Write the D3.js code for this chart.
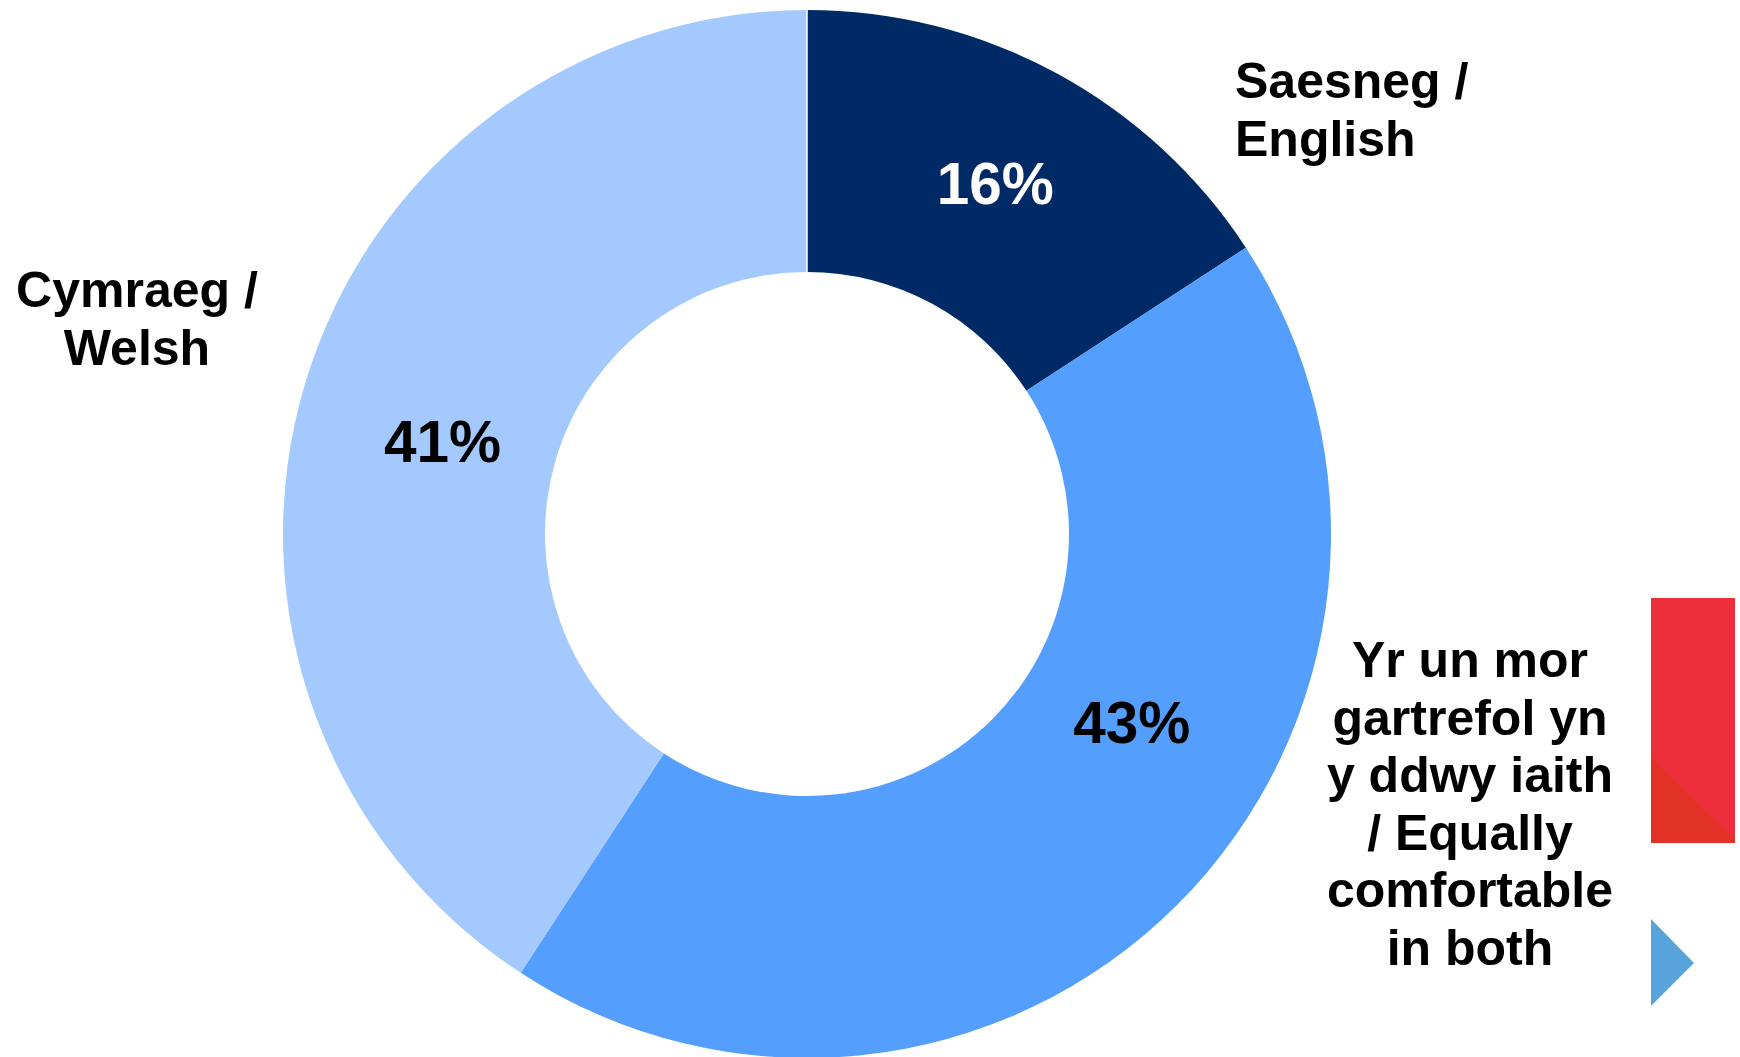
<!DOCTYPE html>
<html><head><meta charset="utf-8">
<script src="https://cdn.jsdelivr.net/npm/d3@7"></script>
<style>html,body{margin:0;padding:0;background:#fff;}svg{display:block;}</style>
</head><body>
<script>
const categories = ["Saesneg / English", "Yr un mor gartrefol yn y ddwy iaith / Equally comfortable in both", "Cymraeg / Welsh"];
const values = [15.8, 43.4, 40.8];
const categoryLines = [
  ["Saesneg /", "English"],
  ["Yr un mor", "gartrefol yn", "y ddwy iaith", "/ Equally", "comfortable", "in both"],
  ["Cymraeg /", "Welsh"]
];
const colors = ["#002A66", "#549EFE", "#A3C9FE"];
const valueColors = ["#ffffff", "#000000", "#000000"];

const W = 1740, H = 1057;
const cx = 807, cy = 534, rOuter = 524, rInner = 262;
const font = "'Liberation Sans', Arial, Helvetica, sans-serif";
const fmt = v => d3.format(".0f")(v) + "%";

const svg = d3.select("body").append("svg").attr("width", W).attr("height", H);
const g = svg.append("g").attr("transform", `translate(${cx},${cy})`);

const pie = d3.pie().sort(null).value(d => d);
const arcs = pie(values);
const arc = d3.arc().innerRadius(rInner).outerRadius(rOuter);

g.selectAll("path.slice").data(arcs).enter().append("path")
  .attr("class", "slice")
  .attr("d", arc)
  .attr("fill", (d, i) => colors[i]);

// thin white separator at start angle
g.append("line")
  .attr("x1", 0).attr("y1", -rInner).attr("x2", 0).attr("y2", -rOuter)
  .attr("stroke", "#fff").attr("stroke-width", 1.5);

// value labels: placed along the ring (angle offsets in degrees, radius)
const labelPlace = [{da: -0.2, r: 398}, {da: -15, r: 375}, {da: -2.3, r: 376}];
arcs.forEach((a, i) => {
  const mid = (a.startAngle + a.endAngle) / 2 + labelPlace[i].da * Math.PI / 180;
  const r = labelPlace[i].r;
  const x = Math.sin(mid) * r, y = -Math.cos(mid) * r;
  g.append("text")
    .attr("x", x).attr("y", y)
    .attr("dy", "0.36em")
    .attr("text-anchor", "middle")
    .attr("font-family", font).attr("font-weight", "bold").attr("font-size", 58.5)
    .attr("fill", valueColors[i])
    .text(fmt(a.data));
});

// category labels
const catPos = [
  {x: 1235, y: 98, anchor: "start"},
  {x: 1470, y: 677, anchor: "middle"},
  {x: 137, y: 307, anchor: "middle"}
];
categoryLines.forEach((lines, i) => {
  const t = svg.append("text")
    .attr("x", catPos[i].x).attr("y", catPos[i].y)
    .attr("text-anchor", catPos[i].anchor)
    .attr("font-family", font).attr("font-weight", "bold").attr("font-size", 50)
    .attr("fill", "#000");
  lines.forEach((ln, j) => {
    t.append("tspan").attr("x", catPos[i].x).attr("dy", j === 0 ? 0 : 57.5).text(ln);
  });
});

// decorative shapes at right edge
svg.append("rect").attr("x", 1651).attr("y", 598).attr("width", 84).attr("height", 245).attr("fill", "#EC2F3B");
svg.append("path").attr("d", "M1651,757 L1735,840 L1735,843 L1651,843 Z").attr("fill", "#E23228");
svg.append("path").attr("d", "M1651,919 L1694,963 L1651,1006 Z").attr("fill", "#57A3DC");
</script>
</body></html>
